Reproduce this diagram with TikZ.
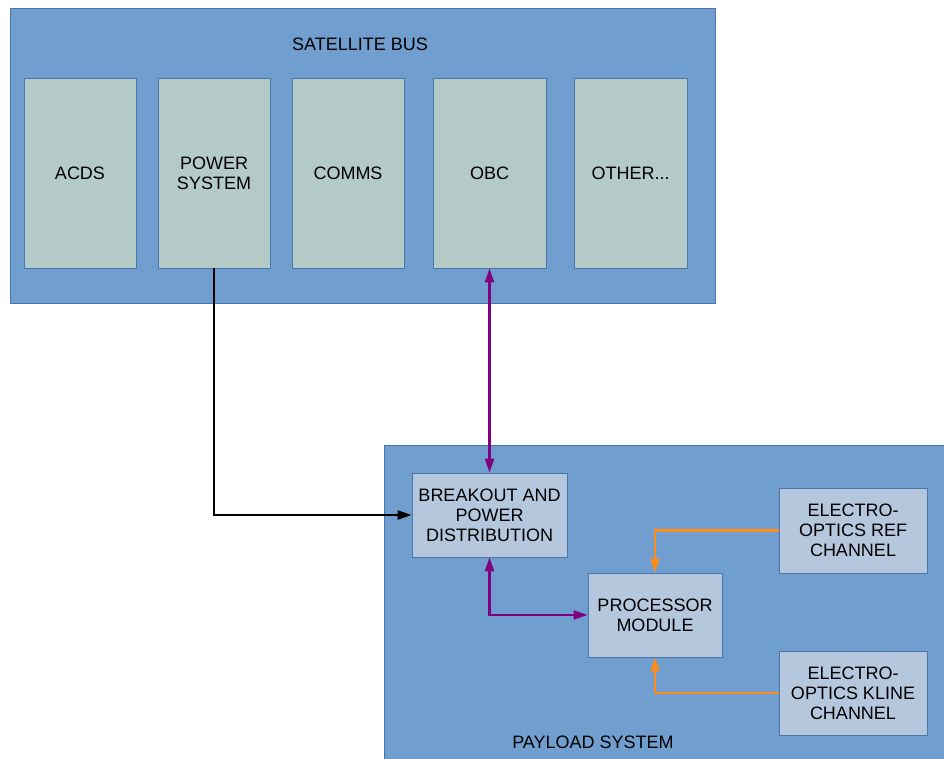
\documentclass[tikz,border=0pt]{standalone}
\usepackage{fontspec}
\setmainfont{Liberation Sans}
\usetikzlibrary{arrows.meta}
\definecolor{busfill}{RGB}{112,159,207}
\definecolor{busline}{RGB}{74,118,172}
\definecolor{subfill}{RGB}{180,202,198}
\definecolor{payfill}{RGB}{180,199,221}
\definecolor{purp}{RGB}{128,0,128}
\definecolor{orng}{RGB}{255,140,26}
\tikzset{
  bigbox/.style={draw=busline, fill=busfill, line width=0.8pt, inner sep=0pt},
  subsys/.style={draw=busline, fill=subfill, line width=0.8pt, inner sep=0pt, minimum height=190pt, align=center, font=\fontsize{18}{20}\selectfont},
  paybox/.style={draw=busline, fill=payfill, line width=0.8pt, inner sep=0pt, align=center, font=\fontsize{18}{20}\selectfont},
  lbl/.style={font=\fontsize{18}{20}\selectfont, inner sep=0pt},
  conn/.style={line width=2.3pt},
  arrowtip/.style={-{Triangle[length=14pt,width=9pt]}},
  bothtips/.style={{Triangle[length=14pt,width=9pt]}-{Triangle[length=14pt,width=9pt]}}
}
\begin{document}
\begin{tikzpicture}[x=1pt,y=-1pt]
\useasboundingbox (0,0) rectangle (944,759);
% satellite bus
\node[bigbox, minimum width=705pt, minimum height=295pt] (bus) at (362.5,155.5) {};
\node[lbl] (bustitle) at (360,44) {SATELLITE BUS};
\node[subsys, minimum width=112pt] (acds) at (80,173) {ACDS};
\node[subsys, minimum width=112pt] (power) at (214,173) {POWER\\SYSTEM};
\node[subsys, minimum width=112pt] (comms) at (348,173) {COMMS};
\node[subsys, minimum width=113pt] (obc) at (489.5,173) {OBC};
\node[subsys, minimum width=113pt] (other) at (630.5,173) {OTHER...};
% payload system
\node[bigbox, minimum width=570pt, minimum height=324pt] (payload) at (669,607) {};
\node[lbl] (paytitle) at (593,742) {PAYLOAD SYSTEM};
\node[paybox, minimum width=155pt, minimum height=84pt] (breakout) at (489.5,515) {BREAKOUT AND\\POWER\\DISTRIBUTION};
\node[paybox, minimum width=134pt, minimum height=84pt] (proc) at (655,615) {PROCESSOR\\MODULE};
\node[paybox, minimum width=148pt, minimum height=85pt] (eoref) at (853,530.5) {ELECTRO-\\OPTICS REF\\CHANNEL};
\node[paybox, minimum width=148pt, minimum height=84pt] (eokline) at (853,693) {ELECTRO-\\OPTICS KLINE\\CHANNEL};
% connectors
\draw[conn, black, arrowtip] (power.south) |- (breakout.west);
\draw[conn, purp, bothtips] (obc.south) -- (breakout.north);
\draw[conn, purp, bothtips] (breakout.south) |- (proc.west);
\draw[conn, orng, arrowtip] (eoref.west) -| (proc.north);
\draw[conn, orng, arrowtip] (eokline.west) -| (proc.south);
\end{tikzpicture}
\end{document}
